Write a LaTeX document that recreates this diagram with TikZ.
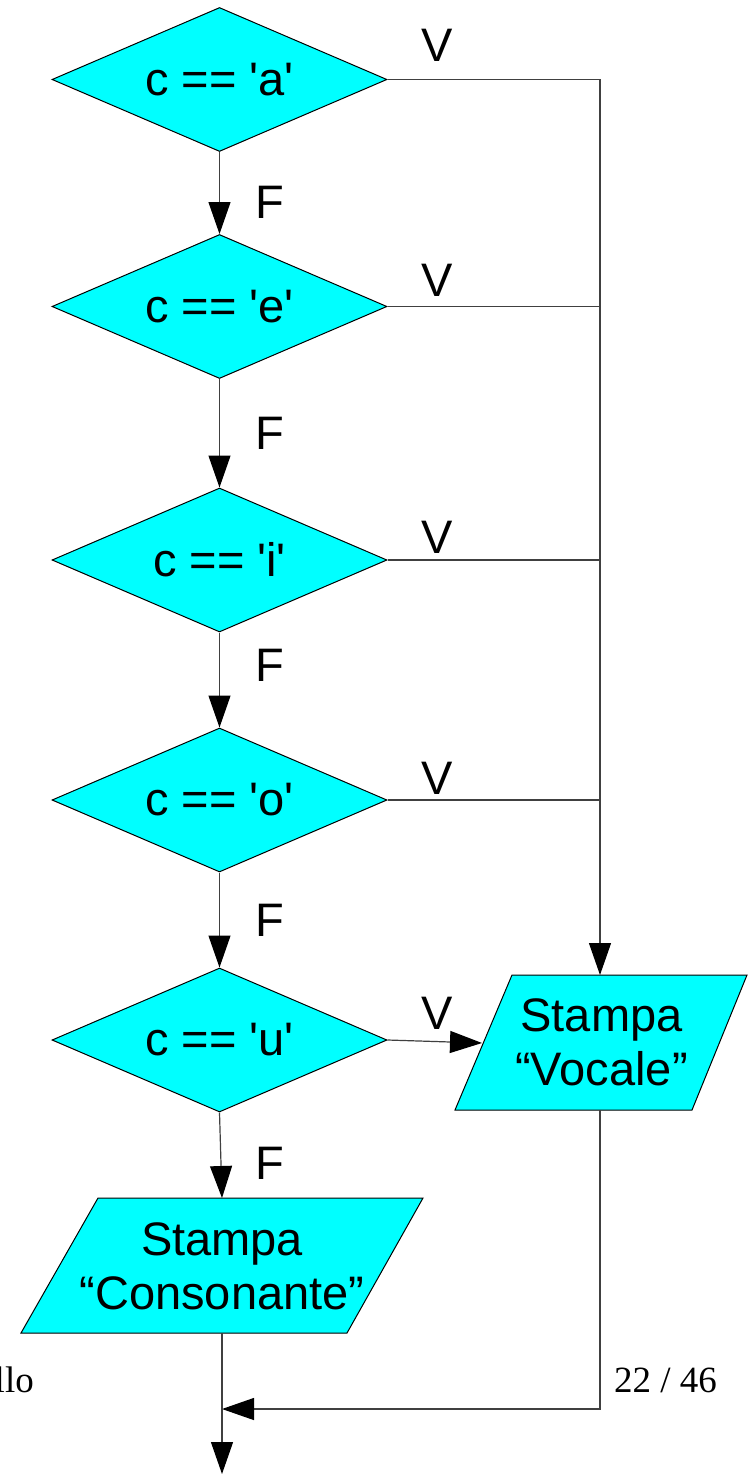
\documentclass[tikz,border=0pt]{standalone}
\usepackage{fontspec}
\setmainfont{Liberation Sans}
\newfontfamily\serifsmall{Liberation Serif}
\usetikzlibrary{shapes.geometric,arrows.meta}
\definecolor{aqua}{RGB}{0,255,255}
\tikzset{
  dec/.style={diamond, draw=black, line width=1pt, fill=aqua, minimum width=335pt,
    minimum height=144pt, inner sep=0pt, aspect=2.33, font=\fontsize{47}{54}\selectfont},
  iobox/.style={fill=aqua, draw=black, line width=1pt},
  iotext/.style={align=center, font=\fontsize{47}{54}\selectfont, inner sep=0pt},
  conn/.style={draw=black!75, line width=1.2pt, -{Triangle[length=32pt,width=22pt,color=black]}},
  plain/.style={draw=black!75, line width=1.2pt},
  lab/.style={font=\fontsize{47}{54}\selectfont, inner sep=0pt},
  pg/.style={font=\serifsmall\fontsize{37}{42}\selectfont, inner sep=0pt},
}
\begin{document}
\begin{tikzpicture}[x=1pt,y=-1pt]
\useasboundingbox (0,0) rectangle (749,1474);
% decisions
\node[dec] (d1) at (219.5,79.5) {c == \textquotesingle a\textquotesingle};
\node[dec] (d2) at (219.5,306.5) {c == \textquotesingle e\textquotesingle};
\node[dec] (d3) at (219.5,560) {c == \textquotesingle i\textquotesingle};
\node[dec] (d4) at (219.5,800) {c == \textquotesingle o\textquotesingle};
\node[dec] (d5) at (219.5,1040) {c == \textquotesingle u\textquotesingle};
% output boxes
\path[iobox] (455,1110) -- (512,975) -- (747,975) -- (692,1110) -- cycle;
\node[iotext] (voc) at (601.5,1042) {Stampa\\“Vocale”};
\path[iobox] (21,1333) -- (98,1198) -- (423,1198) -- (347,1333) -- cycle;
\node[iotext] (con) at (222,1266) {Stampa\\“Consonante”};
% anchor points
\coordinate (j1) at (600,79.5);
\coordinate (vtop) at (600,975);
\coordinate (vin) at (482,1043);
\coordinate (vbot) at (600,1110);
\coordinate (jb) at (600,1409);
\coordinate (mrg) at (222,1409);
\coordinate (ctop) at (222,1198);
\coordinate (cbot) at (222,1333);
\coordinate (out) at (222,1474);
% F branches
\draw[conn] (d1.south) -- (d2.north);
\draw[conn] (d2.south) -- (d3.north);
\draw[conn] (d3.south) -- (d4.north);
\draw[conn] (d4.south) -- (d5.north);
\draw[conn] (d5.south) -- (ctop);
% V branches
\draw[conn] (d1.east) -- (j1) -- (vtop);
\draw[plain] (d2.east) -- (d2.east -| j1);
\draw[plain] (d3.east) -- (d3.east -| j1);
\draw[plain] (d4.east) -- (d4.east -| j1);
\draw[conn] (d5.east) -- (vin);
% merge
\draw[conn] (vbot) -- (jb) -- (mrg);
\draw[conn] (cbot) -- (out);
% labels
\node[lab] (v1) at (437,45) {V};
\node[lab] (v2) at (437,280) {V};
\node[lab] (v3) at (437,537) {V};
\node[lab] (v4) at (437,778) {V};
\node[lab] (v5) at (437,1013) {V};
\node[lab] (f1) at (270,202) {F};
\node[lab] (f2) at (270,433) {F};
\node[lab] (f3) at (270,665) {F};
\node[lab] (f4) at (270,920) {F};
\node[lab] (f5) at (270,1163) {F};
% footer fragments
\node[pg, anchor=base east] (lo) at (34,1392) {llo};
\node[pg, anchor=base west] (pn) at (614,1392) {22 / 46};
\end{tikzpicture}
\end{document}
